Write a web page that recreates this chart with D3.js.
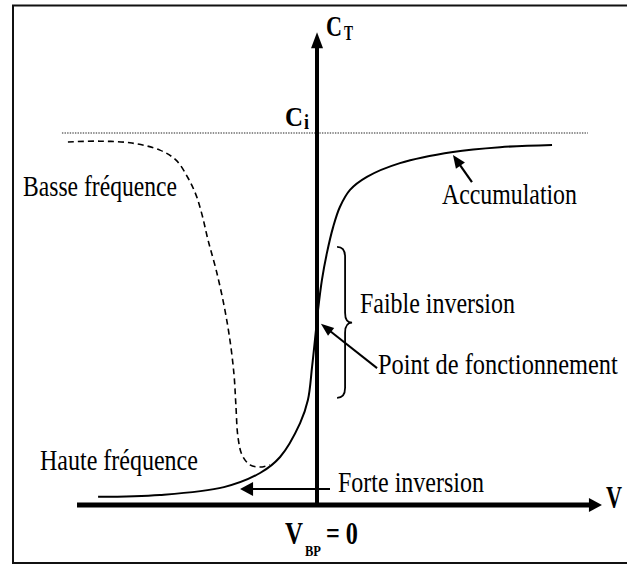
<!DOCTYPE html>
<html>
<head>
<meta charset="utf-8">
<script src="https://cdn.jsdelivr.net/npm/d3@7"></script>
<style>
  html, body { margin: 0; padding: 0; background: #fff; }
  svg { display: block; }
  text { font-family: "Liberation Serif", "Times New Roman", "DejaVu Serif", serif; fill: #000; }
</style>
</head>
<body>
<svg id="chart" width="627" height="566"></svg>
<script>
// C-V characteristic of an MOS capacitor (normalised: C_T / C_i versus gate voltage V)

// High-frequency curve (solid): gate voltage V, normalised capacitance C
const hfVoltage = [-8.42, -6.04, -3.58, -2.19, -1.42, -0.65, -0.35, -0.19, -0.04, 0.04, 0.19, 0.38, 0.62, 0.88, 1.27, 1.92, 3.19, 5.23, 7.04, 9.04];
const hfCapacitance = [0.022, 0.027, 0.048, 0.086, 0.129, 0.220, 0.282, 0.371, 0.470, 0.524, 0.605, 0.677, 0.747, 0.801, 0.847, 0.882, 0.919, 0.949, 0.962, 0.968];

// Low-frequency curve (dashed)
const lfVoltage = [-9.58, -8.35, -7.12, -6.04, -5.42, -4.96, -4.65, -4.42, -4.19, -3.88, -3.58, -3.35, -3.19, -3.12, -3.04, -2.88, -2.58, -2.19, -1.81];
const lfCapacitance = [0.976, 0.978, 0.973, 0.954, 0.927, 0.879, 0.833, 0.780, 0.712, 0.632, 0.538, 0.444, 0.349, 0.269, 0.183, 0.134, 0.108, 0.102, 0.108];

// Oxide capacitance level
const ciLevel = 1;

const svg = d3.select("#chart");

const x = d3.scaleLinear().domain([-10, 10]).range([57, 577]);
const y = d3.scaleLinear().domain([0, 1]).range([505, 133]);

// Frame
svg.append("rect")
  .attr("x", 13).attr("y", 5.5)
  .attr("width", 640).attr("height", 557.5)
  .attr("fill", "none").attr("stroke", "#111").attr("stroke-width", 2);

// Dotted C_i level
svg.append("line")
  .attr("x1", x(-9.81)).attr("x2", x(10.42))
  .attr("y1", y(ciLevel)).attr("y2", y(ciLevel))
  .attr("stroke", "#222").attr("stroke-width", 1.2)
  .attr("stroke-dasharray", "1.4,1.2");

// Arrow helper: shaft plus filled head pointing at (x2, y2)
function arrow(g, x1, y1, x2, y2, width, headLen, headHalf) {
  const ang = Math.atan2(y2 - y1, x2 - x1);
  const bx = x2 - headLen * Math.cos(ang), by = y2 - headLen * Math.sin(ang);
  g.append("line")
    .attr("x1", x1).attr("y1", y1).attr("x2", bx + Math.cos(ang)).attr("y2", by + Math.sin(ang))
    .attr("stroke", "#000").attr("stroke-width", width);
  const px = -Math.sin(ang) * headHalf, py = Math.cos(ang) * headHalf;
  g.append("path")
    .attr("d", `M${x2},${y2}L${bx + px},${by + py}L${bx - px},${by - py}Z`)
    .attr("fill", "#000");
}

const axes = svg.append("g");
// Horizontal V axis
arrow(axes, x(-9.23), y(0), x(10.96), y(0), 5, 13, 7);
// Vertical C_T axis
arrow(axes, x(0), y(0) + 2, x(0), y(1.271), 4, 16, 6);

// Curves
const line = d3.line()
  .x(d => x(d[0])).y(d => y(d[1]))
  .curve(d3.curveCatmullRom.alpha(0.5));

svg.append("path")
  .datum(hfVoltage.map((v, i) => [v, hfCapacitance[i]]))
  .attr("d", line)
  .attr("fill", "none").attr("stroke", "#000").attr("stroke-width", 2);

svg.append("path")
  .datum(lfVoltage.map((v, i) => [v, lfCapacitance[i]]))
  .attr("d", line)
  .attr("fill", "none").attr("stroke", "#000").attr("stroke-width", 1.6)
  .attr("stroke-dasharray", "6,4");

// Annotation arrows
const ann = svg.append("g");
arrow(ann, x(0.5), y(0.043), x(-2.96), y(0.043), 2, 13, 7);      // strong inversion
arrow(ann, x(5.96), y(0.868), x(5.23), y(0.941), 2.2, 13, 5.5);  // accumulation
arrow(ann, x(2.31), y(0.368), x(0.15), y(0.487), 2, 13, 5);      // operating point

// Brace marking weak inversion
const bx = x(1.08), bTop = y(0.694), bBot = y(0.288), bMid = y(0.49);
svg.append("path")
  .attr("d",
    `M${bx - 8},${bTop} Q${bx},${bTop} ${bx},${bTop + 10}` +
    ` L${bx},${bMid - 10} Q${bx},${bMid} ${bx + 7},${bMid}` +
    ` Q${bx},${bMid} ${bx},${bMid + 10}` +
    ` L${bx},${bBot - 10} Q${bx},${bBot} ${bx - 8},${bBot}`)
  .attr("fill", "none").attr("stroke", "#000").attr("stroke-width", 1.8);

// Labels: narrow serif type, squeezed horizontally to the given width
function label(txt, px, py, len, size, bold) {
  const t = svg.append("text")
    .attr("font-size", size)
    .attr("font-weight", bold ? "bold" : "normal")
    .text(txt);
  const natural = t.node().getComputedTextLength() || len;
  t.attr("transform", `translate(${px},${py}) scale(${len / natural},1)`);
  return t;
}

label("Basse fréquence", 23, 196, 154, 30);
label("Accumulation", 442, 204, 135, 30);
label("Faible inversion", 360, 313, 155, 30);
label("Point de fonctionnement", 378, 374, 240, 30);
label("Haute fréquence", 40, 470, 158, 30);
label("Forte inversion", 338, 492, 146, 30);

label("C", 326, 36, 16, 30, true);
label("T", 344, 40, 9, 20, true);
label("C", 285, 126, 18, 28, true);
label("i", 304, 129, 5, 20, true);

label("V", 606, 508, 16, 32, true);
label("V", 285, 544, 18, 32, true);
label("BP", 305, 556, 16, 15, true);
label("= 0", 326, 544, 32, 32, true);
</script>
</body>
</html>
